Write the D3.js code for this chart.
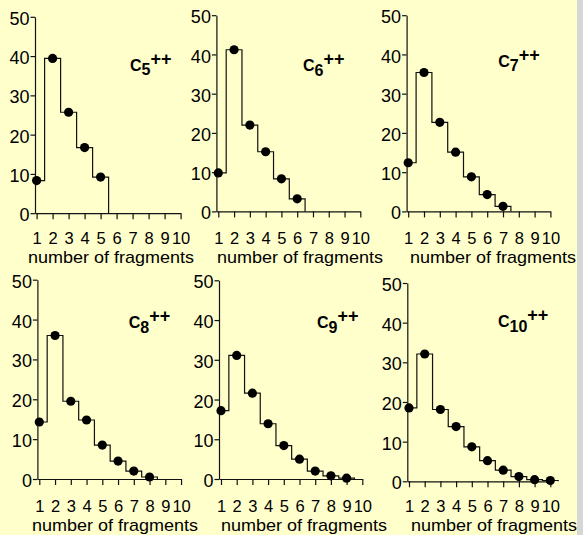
<!DOCTYPE html>
<html>
<head>
<meta charset="utf-8">
<script src="https://cdn.jsdelivr.net/npm/d3@7"></script>
<style>
  html, body { margin: 0; padding: 0; background: #ffffcc; }
  svg { display: block; }
  text { font-family: Arial, "Liberation Sans", sans-serif; fill: #000; }
</style>
</head>
<body>
<svg id="chart" width="583" height="535"></svg>
<script>
// ---- data ----
const categories = [1, 2, 3, 4, 5, 6, 7, 8, 9, 10];
const xTickLabels = ["1", "2", "3", "4", "5", "6", "7", "8", "9", "10"];
const yTicks = [0, 10, 20, 30, 40, 50];
const clusterSizes = ["5", "6", "7", "8", "9", "10"];
const c5 = [8.3, 39.4, 25.7, 16.7, 9.2];
const c6 = [9.8, 41.2, 22.0, 15.2, 8.3, 3.2];
const c7 = [12.4, 35.4, 22.7, 15.1, 8.8, 4.3, 1.3];
const c8 = [14.3, 36.0, 19.5, 14.8, 8.5, 4.5, 2.0, 0.5];
const c9 = [17.2, 31.1, 21.6, 13.9, 8.4, 5.0, 2.0, 0.8, 0.2];
const c10 = [18.5, 32.1, 18.1, 13.8, 8.7, 5.2, 2.8, 1.2, 0.4, 0.2];
const series = [c5, c6, c7, c8, c9, c10];
const xLabel = "number of fragments";

// ---- layout (pixel positions per panel) ----
const layout = [
  {ax: 35,    x1: 36.6,  dx: 16.0,  y0: 213.2, y50: 16.8,  tb: 244,   lb: 263,   lx: 111, cx: 130,   cb: 70.7},
  {ax: 216.4, x1: 218.3, dx: 15.78, y0: 211.4, y50: 15.2,  tb: 244,   lb: 263,   lx: 300, cx: 303,   cb: 71},
  {ax: 406.6, x1: 408.2, dx: 15.8,  y0: 211.4, y50: 15.2,  tb: 244,   lb: 263,   lx: 493, cx: 498.3, cb: 66.7},
  {ax: 37.4,  x1: 39.3,  dx: 15.75, y0: 479,   y50: 279.7, tb: 512,   lb: 531,   lx: 115, cx: 128.7, cb: 328},
  {ax: 219,   x1: 221,   dx: 15.7,  y0: 479,   y50: 280.3, tb: 512,   lb: 531,   lx: 304, cx: 317,   cb: 328},
  {ax: 407.3, x1: 409,   dx: 15.7,  y0: 481.3, y50: 283,   tb: 512.5, lb: 531.3, lx: 494, cx: 498,   cb: 327.3}
];

const svg = d3.select("#chart");
svg.append("rect").attr("x", 0).attr("y", 0).attr("width", 583).attr("height", 535).attr("fill", "#ffffcc");
svg.append("rect").attr("x", 577).attr("y", 0).attr("width", 6).attr("height", 535).attr("fill", "#d6d6d6");

const ink = "#111";

series.forEach((vals, i) => {
  const L = layout[i];
  const x10 = L.x1 + 9 * L.dx;
  const d0 = 1 - (L.x1 - L.ax) / L.dx;
  const x = d3.scaleLinear().domain([d0, 10]).range([L.ax, x10]);
  const y = d3.scaleLinear().domain([0, 50]).range([L.y0, L.y50]);
  const g = svg.append("g");

  // y axis
  const ya = g.append("g").attr("transform", `translate(${L.ax},0)`)
    .call(d3.axisLeft(y).tickValues(yTicks).tickSize(4.5).tickSizeOuter(0).tickPadding(1));
  ya.attr("font-family", null).attr("font-size", null);
  ya.selectAll("path.domain, line").attr("stroke", ink).attr("stroke-width", 1.2);
  ya.selectAll("text").attr("font-size", 18).attr("dy", "0.42em").attr("fill", "#000");

  // x axis
  const xa = g.append("g").attr("transform", `translate(0,${L.y0})`)
    .call(d3.axisBottom(x).tickValues(categories).tickFormat((d, j) => xTickLabels[j]).tickSize(6).tickSizeOuter(0));
  xa.attr("font-family", null).attr("font-size", null);
  xa.selectAll("path.domain, line").attr("stroke", ink).attr("stroke-width", 1.2);
  xa.selectAll("text").attr("font-size", 16.5).attr("dy", null).attr("y", L.tb - L.y0).attr("fill", "#000");

  // step outline
  const pts = [[d0, vals[0]]];
  vals.forEach((v, k) => {
    const c = categories[k];
    pts.push([c + 0.5, v]);
    pts.push([c + 0.5, k + 1 < vals.length ? vals[k + 1] : 0]);
  });
  g.append("path")
    .attr("d", d3.line().x(d => x(d[0])).y(d => y(d[1]))(pts))
    .attr("fill", "none").attr("stroke", ink).attr("stroke-width", 1.2);

  // dots
  g.selectAll("circle.dot").data(vals).join("circle")
    .attr("class", "dot")
    .attr("cx", (v, k) => x(categories[k]))
    .attr("cy", v => y(v))
    .attr("r", 4.6)
    .attr("fill", "#000");

  // x label
  g.append("text").attr("x", L.lx).attr("y", L.lb).attr("text-anchor", "middle")
    .attr("font-size", 17).attr("textLength", 166).attr("lengthAdjust", "spacingAndGlyphs")
    .text(xLabel);

  // cluster label C_n^{++}
  const t = g.append("text").attr("x", L.cx).attr("y", L.cb)
    .attr("font-size", 16).attr("font-weight", "bold");
  t.append("tspan").text("C");
  t.append("tspan").attr("dy", 4.5).text(clusterSizes[i]);
  t.append("tspan").attr("dy", -10.5).attr("font-size", 18).text("++");
});
</script>
</body>
</html>
